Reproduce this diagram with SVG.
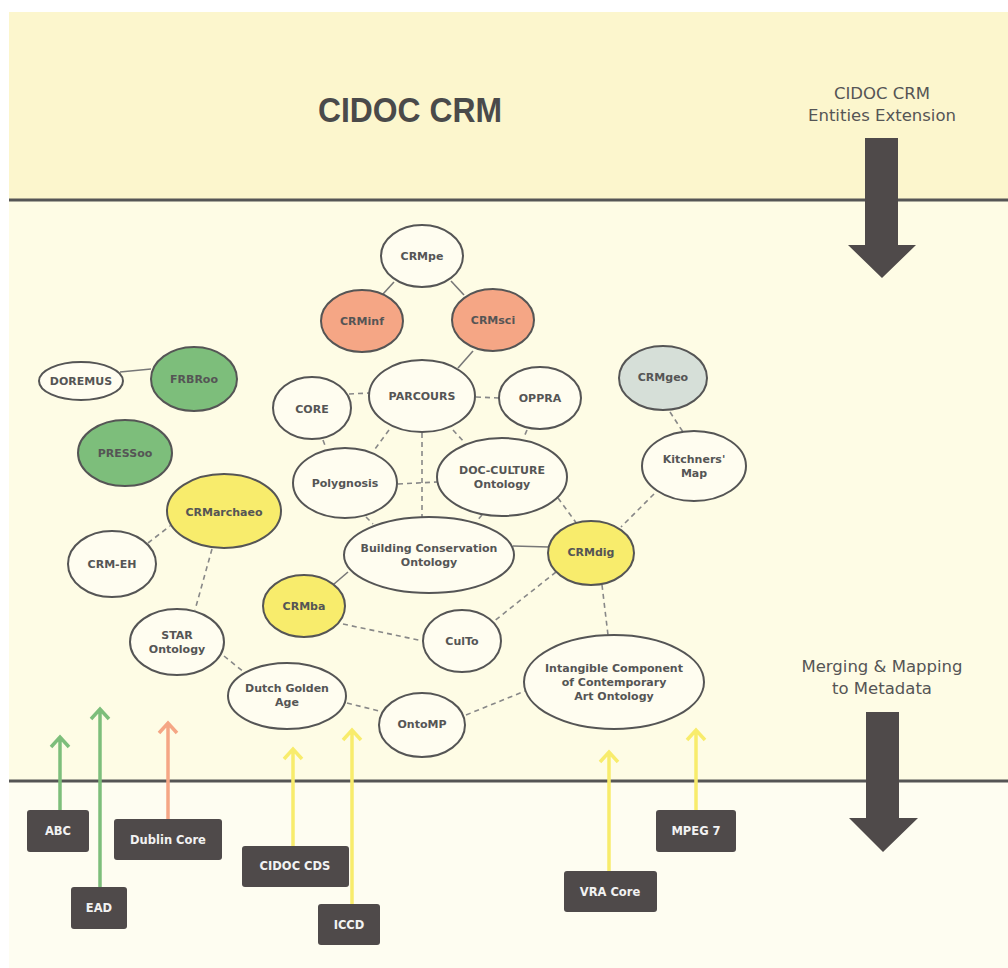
<svg xmlns="http://www.w3.org/2000/svg" width="1008" height="968" viewBox="0 0 1008 968">
<style>
.n{fill:#fffdf0;stroke:#555;stroke-width:2}
.o{fill:#f5a685}
.g{fill:#7dbe7b}
.y{fill:#f8ec6c}
.s{fill:#d6dfd8}
.t{font-family:"DejaVu Sans",Verdana,sans-serif;font-weight:bold;font-size:11px;fill:#555;text-anchor:middle}
.sl{stroke:#777;stroke-width:1.6;fill:none}
.dl{stroke:#888;stroke-width:1.6;stroke-dasharray:5 4;fill:none}
.box{fill:#4f4a4a}
.bt{font-family:"DejaVu Sans",Verdana,sans-serif;font-weight:bold;font-size:11.5px;fill:#f2f2f2;text-anchor:middle}
.lbl{font-family:"DejaVu Sans",Verdana,sans-serif;font-size:16.5px;fill:#555;text-anchor:middle}
.ag{stroke:#7dbe7b}
.ao{stroke:#f5a685}
.ay{stroke:#f8ec6c}
.up{stroke-width:3.5;fill:none;stroke-linecap:butt}
</style>
<rect x="0" y="0" width="1008" height="968" fill="#ffffff"/>
<rect x="9" y="12" width="999" height="188" fill="#fcf6cd"/>
<rect x="9" y="200" width="999" height="581" fill="#fefce5"/>
<rect x="9" y="781" width="999" height="187" fill="#fefdf1"/>
<line x1="9" y1="200" x2="1008" y2="200" stroke="#555" stroke-width="3"/>
<line x1="9" y1="781" x2="1008" y2="781" stroke="#555" stroke-width="3"/>

<g id="title">
<text x="410" y="122" font-family="Liberation Sans,Arial,sans-serif" font-weight="bold" font-size="35" fill="#4a4a4a" text-anchor="middle" textLength="184" lengthAdjust="spacingAndGlyphs">CIDOC CRM</text>
</g>
<g id="label-extension">
<text class="lbl" x="882" y="99">CIDOC CRM</text>
<text class="lbl" x="882" y="121">Entities Extension</text>
<polygon points="865,138 898,138 898,245 916,245 882,278 848,245 865,245" fill="#4f4a4a"/>
</g>
<g id="label-merging">
<text class="lbl" x="882" y="672">Merging &amp; Mapping</text>
<text class="lbl" x="882" y="694">to Metadata</text>
<polygon points="866,712 899,712 899,818 918,818 883,852 849,818 866,818" fill="#4f4a4a"/>
</g>

<g id="connectors">
<line class="sl" x1="394" y1="282" x2="383" y2="294"/>
<line class="sl" x1="451" y1="281" x2="464" y2="295"/>
<line class="sl" x1="473" y1="351" x2="458" y2="368"/>
<line class="sl" x1="120" y1="372" x2="151" y2="369"/>
<line class="sl" x1="513" y1="546" x2="549" y2="547"/>
<line class="sl" x1="348" y1="572" x2="334" y2="584"/>
<line class="dl" x1="349" y1="394" x2="370" y2="393"/>
<line class="dl" x1="476" y1="397" x2="499" y2="398"/>
<line class="dl" x1="323" y1="440" x2="326" y2="448"/>
<line class="dl" x1="389" y1="430" x2="375" y2="449"/>
<line class="dl" x1="453" y1="430" x2="465" y2="443"/>
<line class="dl" x1="527" y1="430" x2="524" y2="437"/>
<line class="dl" x1="398" y1="484" x2="437" y2="482"/>
<line class="dl" x1="422" y1="433" x2="422" y2="517"/>
<line class="dl" x1="366" y1="517" x2="373" y2="524"/>
<line class="dl" x1="482" y1="515" x2="477" y2="521"/>
<line class="dl" x1="558" y1="498" x2="577" y2="524"/>
<line class="dl" x1="670" y1="412" x2="683" y2="432"/>
<line class="dl" x1="654" y1="494" x2="621" y2="527"/>
<line class="dl" x1="556" y1="572" x2="493" y2="622"/>
<line class="dl" x1="602" y1="585" x2="608" y2="635"/>
<line class="dl" x1="343" y1="624" x2="423" y2="641"/>
<line class="dl" x1="347" y1="703" x2="379" y2="711"/>
<line class="dl" x1="466" y1="715" x2="525" y2="691"/>
<line class="dl" x1="148" y1="543" x2="170" y2="526"/>
<line class="dl" x1="212" y1="549" x2="195" y2="610"/>
<line class="dl" x1="224" y1="656" x2="245" y2="673"/>
<path class="up ag" d="M60,810 V737 M51,747 L60,737 L69,747"/>
<path class="up ag" d="M100,887 V709 M91,719 L100,709 L109,719"/>
<path class="up ao" d="M168,819 V723 M159,733 L168,723 L177,733"/>
<path class="up ay" d="M293,846 V749 M284,759 L293,749 L302,759"/>
<path class="up ay" d="M352,904 V730 M343,740 L352,730 L361,740"/>
<path class="up ay" d="M609,871 V752 M600,762 L609,752 L618,762"/>
<path class="up ay" d="M696,810 V730 M687,740 L696,730 L705,740"/>
</g>

<g id="CRMpe"><ellipse class="n" cx="422" cy="256" rx="41" ry="31"/><text class="t" x="422" y="260">CRMpe</text></g>
<g id="CRMinf"><ellipse class="n o" cx="362" cy="321" rx="41" ry="31"/><text class="t" x="362" y="325">CRMinf</text></g>
<g id="CRMsci"><ellipse class="n o" cx="493" cy="320" rx="41" ry="31"/><text class="t" x="493" y="324">CRMsci</text></g>
<g id="DOREMUS"><ellipse class="n" cx="81" cy="381" rx="42" ry="19"/><text class="t" x="81" y="385">DOREMUS</text></g>
<g id="FRBRoo"><ellipse class="n g" cx="194" cy="379" rx="43" ry="32"/><text class="t" x="194" y="383">FRBRoo</text></g>
<g id="PRESSoo"><ellipse class="n g" cx="125" cy="453" rx="47" ry="33"/><text class="t" x="125" y="457">PRESSoo</text></g>
<g id="CRMarchaeo"><ellipse class="n y" cx="224" cy="511" rx="57" ry="37"/><text class="t" x="224" y="516">CRMarchaeo</text></g>
<g id="CORE"><ellipse class="n" cx="312" cy="408" rx="39" ry="31"/><text class="t" x="312" y="413">CORE</text></g>
<g id="PARCOURS"><ellipse class="n" cx="422" cy="396" rx="53" ry="36"/><text class="t" x="422" y="400">PARCOURS</text></g>
<g id="OPPRA"><ellipse class="n" cx="540" cy="398" rx="41" ry="31"/><text class="t" x="540" y="402">OPPRA</text></g>
<g id="CRMgeo"><ellipse class="n s" cx="663" cy="378" rx="44" ry="32"/><text class="t" x="663" y="381">CRMgeo</text></g>
<g id="KitchnersMap"><ellipse class="n" cx="694" cy="466" rx="52" ry="35"/><text class="t" x="694" y="463">Kitchners'</text><text class="t" x="694" y="477">Map</text></g>
<g id="Polygnosis"><ellipse class="n" cx="345" cy="483" rx="52" ry="35"/><text class="t" x="345" y="487">Polygnosis</text></g>
<g id="DOC-CULTURE"><ellipse class="n" cx="502" cy="477" rx="65" ry="39"/><text class="t" x="502" y="474">DOC-CULTURE</text><text class="t" x="502" y="488">Ontology</text></g>
<g id="BuildingConservation"><ellipse class="n" cx="429" cy="555" rx="85" ry="38"/><text class="t" x="429" y="552">Building Conservation</text><text class="t" x="429" y="566">Ontology</text></g>
<g id="CRMdig"><ellipse class="n y" cx="591" cy="553" rx="43" ry="32"/><text class="t" x="591" y="556">CRMdig</text></g>
<g id="CRM-EH"><ellipse class="n" cx="112" cy="564" rx="44" ry="33"/><text class="t" x="112" y="568">CRM-EH</text></g>
<g id="CRMba"><ellipse class="n y" cx="304" cy="606" rx="41" ry="31"/><text class="t" x="304" y="610">CRMba</text></g>
<g id="STAR"><ellipse class="n" cx="177" cy="642" rx="47" ry="33"/><text class="t" x="177" y="639">STAR</text><text class="t" x="177" y="653">Ontology</text></g>
<g id="CulTo"><ellipse class="n" cx="462" cy="641" rx="39" ry="31"/><text class="t" x="462" y="645">CulTo</text></g>
<g id="DutchGoldenAge"><ellipse class="n" cx="287" cy="696" rx="59" ry="33"/><text class="t" x="287" y="692">Dutch Golden</text><text class="t" x="287" y="706">Age</text></g>
<g id="OntoMP"><ellipse class="n" cx="422" cy="725" rx="43" ry="32"/><text class="t" x="422" y="728">OntoMP</text></g>
<g id="Intangible"><ellipse class="n" cx="614" cy="682" rx="90" ry="47"/><text class="t" x="614" y="672">Intangible Component</text><text class="t" x="614" y="686">of Contemporary</text><text class="t" x="614" y="700">Art Ontology</text></g>

<g id="ABC"><rect class="box" x="27" y="810" width="62" height="42" rx="3"/><text class="bt" x="58" y="835">ABC</text></g>
<g id="DublinCore"><rect class="box" x="114" y="819" width="108" height="41" rx="3"/><text class="bt" x="168" y="844">Dublin Core</text></g>
<g id="EAD"><rect class="box" x="71" y="887" width="56" height="42" rx="3"/><text class="bt" x="99" y="912">EAD</text></g>
<g id="CIDOC-CDS"><rect class="box" x="242" y="846" width="107" height="41" rx="3"/><text class="bt" x="295" y="870">CIDOC CDS</text></g>
<g id="ICCD"><rect class="box" x="318" y="904" width="62" height="41" rx="3"/><text class="bt" x="349" y="929">ICCD</text></g>
<g id="VRACore"><rect class="box" x="564" y="871" width="93" height="41" rx="3"/><text class="bt" x="610" y="896">VRA Core</text></g>
<g id="MPEG7"><rect class="box" x="656" y="810" width="80" height="42" rx="3"/><text class="bt" x="696" y="835">MPEG 7</text></g>
</svg>
